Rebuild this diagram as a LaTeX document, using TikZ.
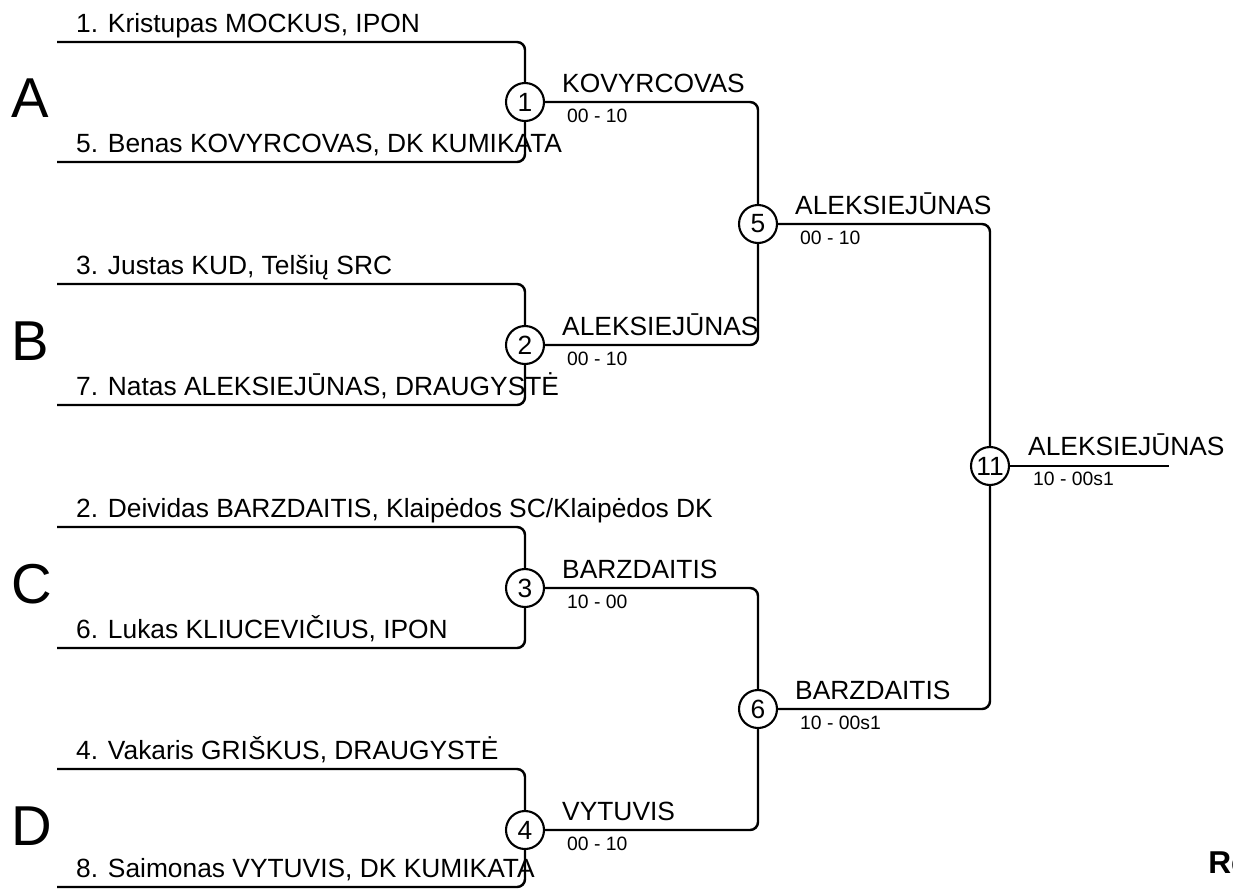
\documentclass[tikz,border=0pt]{standalone}
\usepackage{fontspec}
\setmainfont{Liberation Sans}

\tikzset{
  bout/.style={circle, draw, line width=1.2pt, minimum size=0.76cm, inner sep=0pt, font=\fontsize{15}{18}\selectfont},
  player/.style={anchor=base west, inner sep=0pt, font=\fontsize{15}{18}\selectfont},
  score/.style={anchor=base west, inner sep=0pt, font=\fontsize{11}{13}\selectfont},
  pool/.style={anchor=base west, inner sep=0pt, font=\fontsize{32}{36}\selectfont},
  wire/.style={rounded corners=0.16cm},
}

\begin{document}
\begin{tikzpicture}[x=0.02cm, y=-0.02cm, line width=1.4pt]
  \useasboundingbox (0,0) rectangle (1233,890);

  % bouts
  \node[bout] (m1)  at (525,102) {1};
  \node[bout] (m2)  at (525,345) {2};
  \node[bout] (m3)  at (525,588) {3};
  \node[bout] (m4)  at (525,830) {4};
  \node[bout] (m5)  at (758,224) {5};
  \node[bout] (m6)  at (758,709) {6};
  \node[bout] (m11) at (990,466) {11};

  % free line ends
  \coordinate (p1) at (57,42);
  \coordinate (p5) at (57,162);
  \coordinate (p3) at (57,284);
  \coordinate (p7) at (57,405);
  \coordinate (p2) at (57,527);
  \coordinate (p6) at (57,648);
  \coordinate (p4) at (57,769);
  \coordinate (p8) at (57,887);
  \coordinate (fin) at (1169,466);

  % bracket lines
  \foreach \a/\b in {p1/m1, p5/m1, p3/m2, p7/m2, p2/m3, p6/m3, p4/m4, p8/m4,
                     m1/m5, m2/m5, m3/m6, m4/m6, m5/m11, m6/m11}
    \draw[wire] (\a) -| (\b);
  \draw (m11) -- (fin);

  % pools
  \node[pool] (gA) at (10,117) {A};
  \node[pool] (gB) at (10,360) {B};
  \node[pool] (gC) at (10,603) {C};
  \node[pool] (gD) at (10,845) {D};

  % competitors
  \node[player] (n1) at (75,32)  {1. Kristupas MOCKUS, IPON};
  \node[player] (n5) at (75,152) {5. Benas KOVYRCOVAS, DK KUMIKATA};
  \node[player] (n3) at (75,274) {3. Justas KUD, Telšių SRC};
  \node[player] (n7) at (75,395) {7. Natas ALEKSIEJŪNAS, DRAUGYSTĖ};
  \node[player] (n2) at (75,517) {2. Deividas BARZDAITIS, Klaipėdos SC/Klaipėdos DK};
  \node[player] (n6) at (75,638) {6. Lukas KLIUCEVIČIUS, IPON};
  \node[player] (n4) at (75,759) {4. Vakaris GRIŠKUS, DRAUGYSTĖ};
  \node[player] (n8) at (75,877) {8. Saimonas VYTUVIS, DK KUMIKATA};

  % winners and scores
  \node[player] (w1)  at (561,92)  {KOVYRCOVAS};
  \node[score]  (s1)  at (566,122) {00 - 10};
  \node[player] (w2)  at (561,335) {ALEKSIEJŪNAS};
  \node[score]  (s2)  at (566,365) {00 - 10};
  \node[player] (w3)  at (561,578) {BARZDAITIS};
  \node[score]  (s3)  at (566,608) {10 - 00};
  \node[player] (w4)  at (561,820) {VYTUVIS};
  \node[score]  (s4)  at (566,850) {00 - 10};
  \node[player] (w5)  at (794,214) {ALEKSIEJŪNAS};
  \node[score]  (s5)  at (799,244) {00 - 10};
  \node[player] (w6)  at (794,699) {BARZDAITIS};
  \node[score]  (s6)  at (799,729) {10 - 00s1};
  \node[player] (w11) at (1027,455) {ALEKSIEJŪNAS};
  \node[score]  (s11) at (1032,485) {10 - 00s1};

  \node[anchor=base west, inner sep=0pt, font=\fontsize{18}{21}\selectfont\bfseries] (re) at (1207,873) {Re};
\end{tikzpicture}
\end{document}
